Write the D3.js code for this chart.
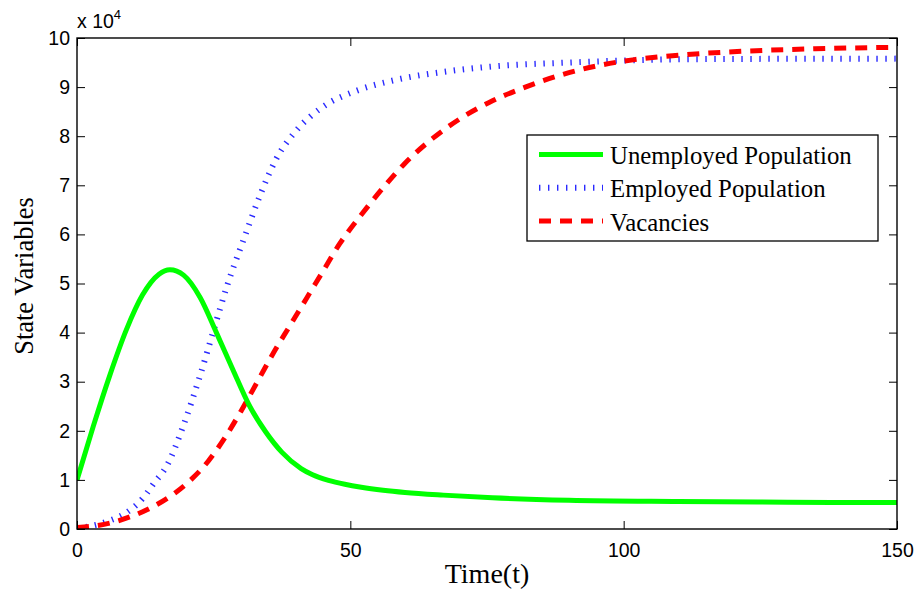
<!DOCTYPE html>
<html>
<head>
<meta charset="utf-8">
<script src="https://cdn.jsdelivr.net/npm/d3@7"></script>
<style>
  html, body { margin: 0; padding: 0; background: #fff; }
  svg { display: block; }
</style>
</head>
<body>
<script>
// Model output, values in units of 10^4
const timeUnemployed = [0, 3, 6, 9, 12, 15, 17, 19.5, 22.5, 25.5, 28.5, 31.5, 34.5, 37.5, 41, 43, 46, 49, 52, 56, 60, 67, 76, 90, 110, 130, 150];
const unemployed     = [1.0, 2.1, 3.13, 4.05, 4.77, 5.19, 5.28, 5.17, 4.72, 4.0, 3.25, 2.52, 1.98, 1.56, 1.23, 1.11, 0.99, 0.91, 0.85, 0.79, 0.745, 0.69, 0.635, 0.585, 0.56, 0.545, 0.54];

const timeEmployed = [0, 3, 6, 9, 12, 14, 16.5, 19.5, 22.5, 25, 27.5, 30.5, 33.5, 36.5, 40, 45, 51, 58, 67, 76, 90, 114, 150];
const employed     = [0.02, 0.07, 0.17, 0.33, 0.62, 0.92, 1.3, 2.12, 3.12, 4.05, 4.97, 5.9, 6.8, 7.55, 8.1, 8.6, 8.92, 9.14, 9.31, 9.42, 9.5, 9.57, 9.58];

const timeVacancies = [0, 3, 6, 10, 14, 18, 21, 24, 27, 30, 33, 36, 39, 42, 45, 48, 52, 56, 60, 65, 70, 76, 82, 88, 95, 102, 110, 120, 135, 150];
const vacancies     = [0.03, 0.06, 0.12, 0.26, 0.46, 0.74, 1.02, 1.38, 1.85, 2.4, 3.0, 3.6, 4.15, 4.7, 5.25, 5.8, 6.4, 6.95, 7.45, 7.95, 8.35, 8.72, 9.0, 9.23, 9.43, 9.56, 9.65, 9.72, 9.78, 9.81];

const xTicks = [0, 50, 100, 150];
const yTicks = [0, 1, 2, 3, 4, 5, 6, 7, 8, 9, 10];
const seriesNames = ["Unemployed Population", "Employed Population", "Vacancies"];

const W = 917, H = 592;
const plot = { left: 77, right: 897, top: 38, bottom: 529 };

const svg = d3.select("body").append("svg").attr("width", W).attr("height", H);

const x = d3.scaleLinear().domain([0, 150]).range([plot.left, plot.right]);
const y = d3.scaleLinear().domain([0, 10]).range([plot.bottom, plot.top]);

const series = [
  { name: seriesNames[0], t: timeUnemployed, v: unemployed, color: "#00ff00", width: 5, dash: null },
  { name: seriesNames[1], t: timeEmployed, v: employed, color: "#2a2aff", width: 6, dash: "1.4,7.6" },
  { name: seriesNames[2], t: timeVacancies, v: vacancies, color: "#ff0000", width: 5, dash: "12,9" }
];

const line = d3.line().x(d => x(d[0])).y(d => y(d[1])).curve(d3.curveMonotoneX);

svg.append("clipPath").attr("id", "plotclip")
  .append("rect").attr("x", plot.left).attr("y", plot.top)
  .attr("width", plot.right - plot.left).attr("height", plot.bottom - plot.top);

const lines = svg.append("g").attr("clip-path", "url(#plotclip)");
// employed first, then vacancies, unemployed on top
[series[1], series[2], series[0]].forEach(s => {
  lines.append("path")
    .datum(s.t.map((t, i) => [t, s.v[i]]))
    .attr("d", line)
    .attr("fill", "none")
    .attr("stroke", s.color)
    .attr("stroke-width", s.width)
    .attr("stroke-dasharray", s.dash)
    .attr("stroke-linecap", "butt")
    .attr("stroke-linejoin", "round");
});

// Axes: labelled bottom/left, inward ticks on all four sides
const tickLen = 8;
const tickFont = "'Liberation Sans', Arial, Helvetica, sans-serif";

const axB = d3.axisBottom(x).tickValues(xTicks).tickSizeInner(-tickLen).tickSizeOuter(0).tickPadding(14).tickFormat(d3.format("d"));
const axT = d3.axisTop(x).tickValues(xTicks).tickSizeInner(-tickLen).tickSizeOuter(0).tickFormat("");
const axL = d3.axisLeft(y).tickValues(yTicks).tickSizeInner(-tickLen).tickSizeOuter(0).tickPadding(7).tickFormat(d3.format("d"));
const axR = d3.axisRight(y).tickValues(yTicks).tickSizeInner(-tickLen).tickSizeOuter(0).tickFormat("");

function styleAxis(g) {
  g.select(".domain").remove();
  g.selectAll(".tick line").attr("stroke", "#000").attr("stroke-width", 1);
  g.selectAll(".tick text").attr("fill", "#000").style("font-family", tickFont).style("font-size", "19.5px");
}

svg.append("g").attr("transform", `translate(0,${plot.bottom})`).call(axB).call(styleAxis);
svg.append("g").attr("transform", `translate(0,${plot.top})`).call(axT).call(styleAxis);
svg.append("g").attr("transform", `translate(${plot.left},0)`).call(axL).call(styleAxis);
svg.append("g").attr("transform", `translate(${plot.right},0)`).call(axR).call(styleAxis);

// frame
svg.append("rect")
  .attr("x", plot.left).attr("y", plot.top)
  .attr("width", plot.right - plot.left).attr("height", plot.bottom - plot.top)
  .attr("fill", "none").attr("stroke", "#000").attr("stroke-width", 1.4);

// exponent note
const expo = svg.append("text").attr("x", plot.left).attr("y", 28)
  .style("font-family", tickFont).style("font-size", "19.5px").attr("fill", "#000");
expo.append("tspan").text("x 10");
expo.append("tspan").attr("dy", -9).style("font-size", "13px").text("4");

// axis titles
const serif = "'Liberation Serif', 'Times New Roman', Times, serif";
svg.append("text")
  .attr("x", (plot.left + plot.right) / 2).attr("y", 583)
  .attr("text-anchor", "middle")
  .style("font-family", serif).style("font-size", "28px").attr("fill", "#000")
  .text("Time(t)");

svg.append("text")
  .attr("transform", `translate(33,276) rotate(-90)`)
  .attr("text-anchor", "middle")
  .style("font-family", serif).style("font-size", "26.5px").attr("fill", "#000")
  .text("State Variables");

// legend
const lg = svg.append("g");
lg.append("rect")
  .attr("x", 527).attr("y", 135).attr("width", 351).attr("height", 106)
  .attr("fill", "#fff").attr("stroke", "#000").attr("stroke-width", 1.3);

series.forEach((s, i) => {
  const ly = 154.5 + i * 33.3;
  lg.append("line")
    .attr("x1", 539).attr("x2", 603).attr("y1", ly).attr("y2", ly)
    .attr("stroke", s.color).attr("stroke-width", s.width)
    .attr("stroke-dasharray", s.dash);
  lg.append("text")
    .attr("x", 610).attr("y", ly + 9.5)
    .style("font-family", serif).style("font-size", "24.8px").attr("fill", "#000")
    .text(s.name);
});
</script>
</body>
</html>
